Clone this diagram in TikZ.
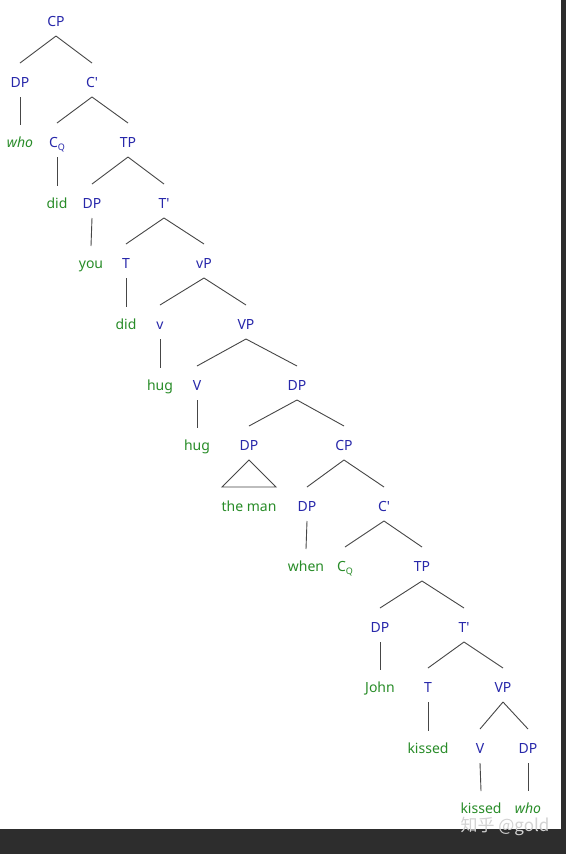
\documentclass[tikz,border=0pt]{standalone}
\usepackage{fontspec}
\setmainfont{Noto Sans}
\newfontfamily\plainnoto{Noto Sans}
\newfontfamily\cjkfont{Noto Sans CJK SC}
\usetikzlibrary{calc}
\definecolor{catblue}{RGB}{40,40,170}
\definecolor{wordgreen}{RGB}{40,140,40}
\definecolor{edgegray}{RGB}{70,70,70}
\definecolor{bandgray}{RGB}{45,45,45}
\definecolor{wmgray}{RGB}{210,210,210}
\newcommand{\CQ}{C{\fontsize{9}{9}\selectfont\raisebox{-3.5pt}{Q}}}
\newcommand{\xbarmark}{{\plainnoto\char39}}
\tikzset{
  lab/.style={inner sep=0pt, text height=10pt, text depth=0pt, font=\fontsize{14}{14}\selectfont},
  cat/.style={lab, text=catblue},
  word/.style={lab, text=wordgreen},
  iword/.style={lab, text=wordgreen, font=\fontsize{14}{14}\selectfont\itshape},
  edge/.style={draw=edgegray, line width=0.9pt},
}
\newcommand{\br}[2]{\draw[edge] ($(#1)+(0,15)$) -- ($(#2)+(0,-19)$);}
\newcommand{\vr}[2]{\draw[edge] ($(#1)+(0,15)$) -- ($(#2)+(0,-17)$);}
\begin{document}
\begin{tikzpicture}[x=1pt,y=-1pt]
\useasboundingbox (0,0) rectangle (566,854);
\fill[bandgray] (0,0) rectangle (566,854);
\fill[white] (0,0) rectangle (561,829);
% row 0
\node[cat] (cp1) at (56,21) {CP};
% row 1
\node[cat] (dp1) at (20,82) {DP};
\node[cat] (cb1) at (92,82) {C\xbarmark};
% row 2
\node[iword] (who1) at (20,142) {who};
\node[cat] (cq1) at (57,142) {\CQ};
\node[cat] (tp1) at (128,142) {TP};
% row 3
\node[word] (did1) at (57,203) {did};
\node[cat] (dp2) at (92,203) {DP};
\node[cat] (tb1) at (164,203) {T\xbarmark};
% row 4
\node[word] (you) at (91,263) {you};
\node[cat] (t1) at (126,263) {T};
\node[cat] (vp1) at (204,263) {vP};
% row 5
\node[word] (did2) at (126,324) {did};
\node[cat] (lv) at (160,324) {v};
\node[cat] (vp2) at (246,324) {VP};
% row 6
\node[word] (hug1) at (160,385) {hug};
\node[cat] (v1) at (197,385) {V};
\node[cat] (dp3) at (297,385) {DP};
% row 7
\node[word] (hug2) at (197,445) {hug};
\node[cat] (dp4) at (249,445) {DP};
\node[cat] (cp2) at (344,445) {CP};
% row 8
\node[word] (man) at (249,506) {the man};
\node[cat] (dp5) at (307,506) {DP};
\node[cat] (cb2) at (384,506) {C\xbarmark};
% row 9
\node[word] (when) at (306,566) {when};
\node[word] (cq2) at (345,566) {\CQ};
\node[cat] (tp2) at (422,566) {TP};
% row 10
\node[cat] (dp6) at (380,627) {DP};
\node[cat] (tb2) at (464,627) {T\xbarmark};
% row 11
\node[word] (john) at (380,687) {John};
\node[cat] (t2) at (428,687) {T};
\node[cat] (vp3) at (503,687) {VP};
% row 12
\node[word] (kissed1) at (428,748) {kissed};
\node[cat] (v2) at (480,748) {V};
\node[cat] (dp7) at (528,748) {DP};
% row 13
\node[word] (kissed2) at (481,808) {kissed};
\node[iword] (who2) at (528,808) {who};
% edges
\br{cp1}{dp1} \br{cp1}{cb1}
\vr{dp1}{who1}
\br{cb1}{cq1} \br{cb1}{tp1}
\vr{cq1}{did1}
\br{tp1}{dp2} \br{tp1}{tb1}
\vr{dp2}{you}
\br{tb1}{t1} \br{tb1}{vp1}
\vr{t1}{did2}
\br{vp1}{lv} \br{vp1}{vp2}
\vr{lv}{hug1}
\br{vp2}{v1} \br{vp2}{dp3}
\vr{v1}{hug2}
\br{dp3}{dp4} \br{dp3}{cp2}
\draw[edge] ($(dp4)+(0,15)$) -- ($(man)+(-27,-19)$) -- ($(man)+(27,-19)$) -- cycle;
\br{cp2}{dp5} \br{cp2}{cb2}
\vr{dp5}{when}
\br{cb2}{cq2} \br{cb2}{tp2}
\br{tp2}{dp6} \br{tp2}{tb2}
\vr{dp6}{john}
\br{tb2}{t2} \br{tb2}{vp3}
\vr{t2}{kissed1}
\br{vp3}{v2} \br{vp3}{dp7}
\vr{v2}{kissed2}
\vr{dp7}{who2}
% watermark
\node[inner sep=0pt, text=wmgray, font=\cjkfont\fontsize{17}{17}\selectfont] (wm) at (505,826) {知乎 @gold};
\end{tikzpicture}
\end{document}
